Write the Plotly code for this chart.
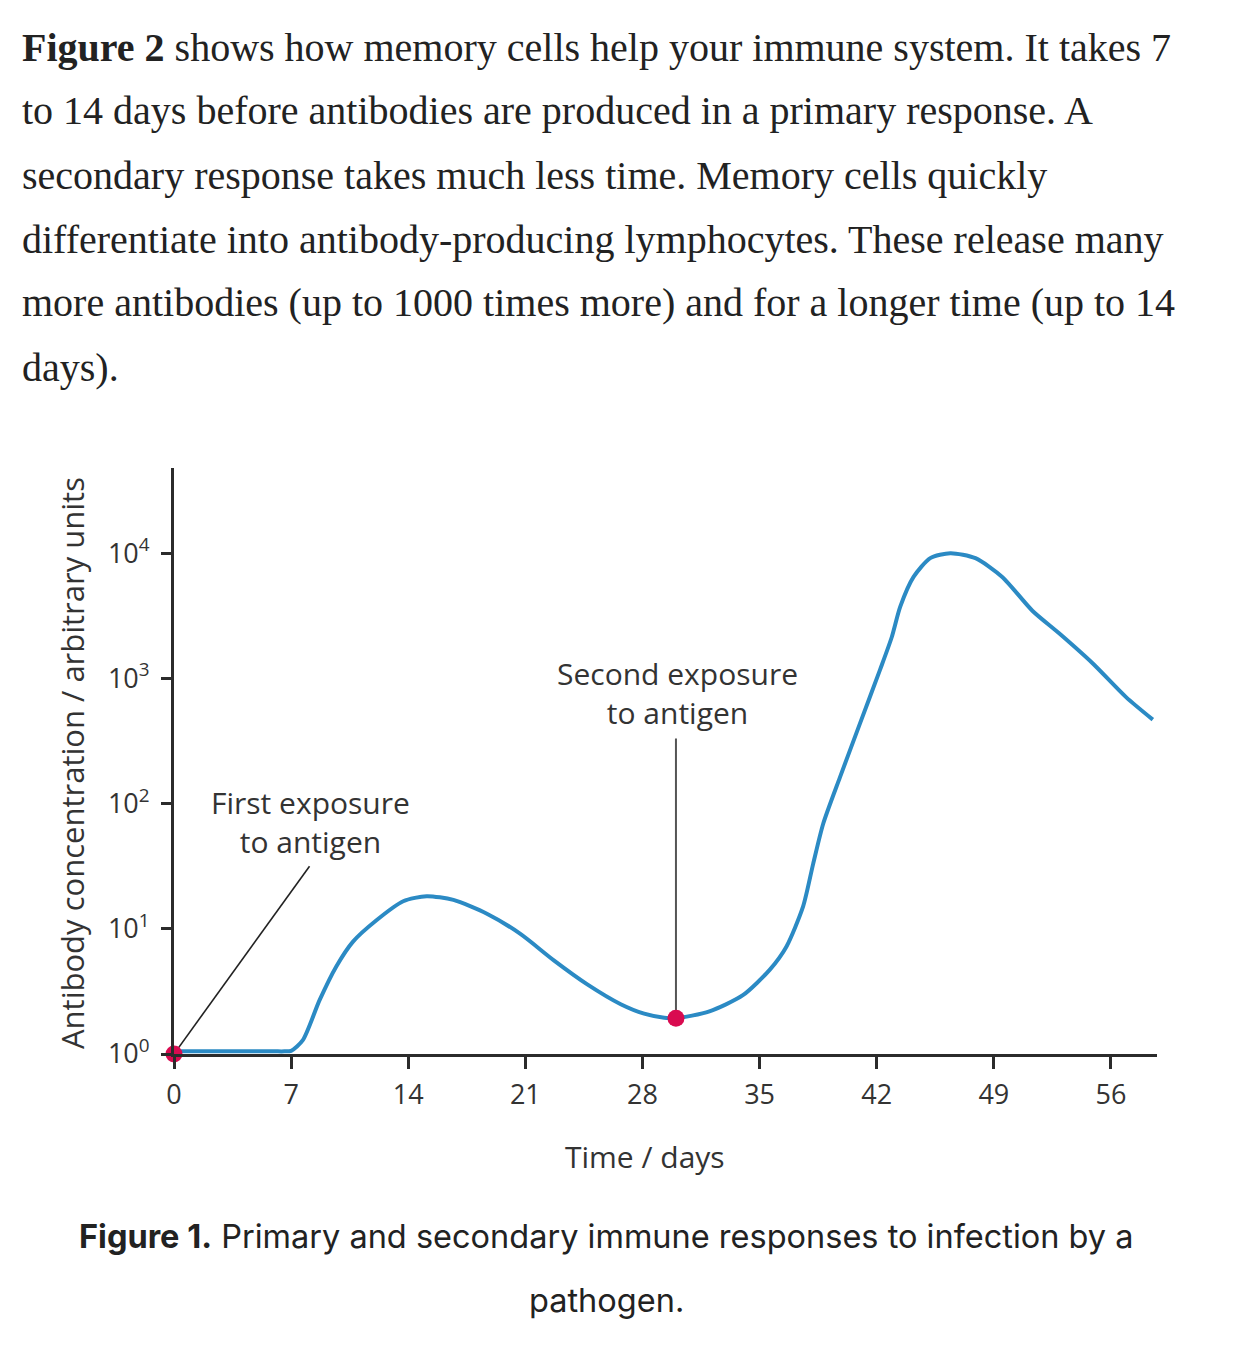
"""Primary vs secondary immune response: antibody concentration over time."""

import plotly.graph_objects as go

# curve (day, antibody concentration in arbitrary units)
days = [0, 3.5, 6.0, 6.6, 7.0, 7.7, 8.7, 9.7, 10.7, 12.1, 13.7, 15.1, 16.7,
        18.7, 20.7, 22.7, 24.7, 26.7, 28.1, 29.3, 30.0, 32.0, 34.0, 35.6,
        36.6, 37.6, 38.2, 38.8, 39.8, 41.0, 42.2, 42.9, 43.4, 44.2, 45.2,
        46.4, 47.9, 49.5, 51.3, 52.9, 54.9, 56.9, 58.5]
concentration = [1.05, 1.05, 1.05, 1.05, 1.06, 1.29, 2.69, 5.0, 7.9, 11.7,
                 16.6, 18.2, 17.0, 13.2, 9.1, 5.6, 3.6, 2.5, 2.1, 1.95, 1.93,
                 2.19, 2.95, 4.7, 7.2, 15.1, 33, 69, 162, 437, 1175, 2140,
                 3720, 6460, 9120, 10000, 9120, 6460, 3470, 2290, 1320, 708,
                 468]

# exposure events
exposure_days = [0, 30]
exposure_conc = [1, 1.93]
# ends of the leader lines for the two labels
leader1_x = [0, 8.1]
leader1_y = [1, 31.6]
leader2_x = [30, 30]
leader2_y = [1.93, 331]

x_ticks = [0, 7, 14, 21, 28, 35, 42, 49, 56]
y_ticks = [1, 10, 100, 1000, 10000]
y_ticktext = ["10<sup>0</sup>", "10<sup>1</sup>", "10<sup>2</sup>",
              "10<sup>3</sup>", "10<sup>4</sup>"]

paragraph = [
    "<b>Figure 2</b> shows how memory cells help your immune system. It takes 7",
    "to 14 days before antibodies are produced in a primary response. A",
    "secondary response takes much less time. Memory cells quickly",
    "differentiate into antibody-producing lymphocytes. These release many",
    "more antibodies (up to 1000 times more) and for a longer time (up to 14",
    "days).",
]
caption = [
    "<b>Figure 1.</b> Primary and secondary immune responses to infection by a",
    "pathogen.",
]

W, H = 1256, 1358
L, R, T, B = 174, 1157, 468, 1054  # plot area in pixels
SANS = "Open Sans"
INK = "#333333"


def px(x, y):
    """pixel position -> paper coords"""
    return (x - L) / (R - L), (B - y) / (B - T)


fig = go.Figure()
fig.add_trace(go.Scatter(x=leader1_x, y=leader1_y, mode="lines",
                         line=dict(color="#222222", width=1.6),
                         hoverinfo="skip"))
fig.add_trace(go.Scatter(x=leader2_x, y=leader2_y, mode="lines",
                         line=dict(color="#555555", width=2),
                         hoverinfo="skip"))
fig.add_trace(go.Scatter(x=days, y=concentration, mode="lines",
                         line=dict(color="#2b8ac4", width=4, shape="spline",
                                   smoothing=0.7),
                         name="antibody"))
fig.add_trace(go.Scatter(x=exposure_days, y=exposure_conc, mode="markers",
                         marker=dict(color="#d90b50", size=17),
                         cliponaxis=False, name="exposure"))

ann = []
for i, line in enumerate(paragraph):
    x, y = px(20, 47 + 64 * i)
    ann.append(dict(x=x, y=y, text=line, xanchor="left", yanchor="middle",
                    font=dict(family="Liberation Serif", size=40,
                              color="#222222")))
for i, line in enumerate(caption):
    x, y = px(606, 1236 + 64 * i)
    ann.append(dict(x=x, y=y, text=line, xanchor="center", yanchor="middle",
                    font=dict(family="Inter", size=32.5, color="#222222")))

x, y = px(310, 822)
ann.append(dict(x=x, y=y, text="First exposure<br>to antigen", xanchor="center",
                yanchor="middle", font=dict(family=SANS, size=30, color=INK)))
x, y = px(677, 693)
ann.append(dict(x=x, y=y, text="Second exposure<br>to antigen", xanchor="center",
                yanchor="middle", font=dict(family=SANS, size=30, color=INK)))
x, y = px(645, 1156)
ann.append(dict(x=x, y=y, text="Time / days", xanchor="center",
                yanchor="middle", font=dict(family=SANS, size=30, color=INK)))
x, y = px(72, 763)
ann.append(dict(x=x, y=y, text="Antibody concentration / arbitrary units",
                textangle=-90, xanchor="center", yanchor="middle",
                font=dict(family=SANS, size=31, color=INK)))
for a in ann:
    a.update(xref="paper", yref="paper", showarrow=False)

fig.update_layout(
    width=W, height=H, autosize=False,
    margin=dict(l=L, r=W - R, t=T, b=H - B, pad=0),
    plot_bgcolor="white", paper_bgcolor="white",
    showlegend=False,
    annotations=ann,
    xaxis=dict(range=[0, 58.75], tickvals=x_ticks, showgrid=False,
               zeroline=False, showline=True, linecolor="#2b2b2b",
               linewidth=3, ticks="outside", ticklen=12, tickwidth=2.5,
               tickcolor="#2b2b2b", ticklabelstandoff=3,
               tickfont=dict(family=SANS, size=27, color=INK)),
    yaxis=dict(type="log", range=[0, 4.68], tickvals=y_ticks,
               ticktext=y_ticktext, showgrid=False, zeroline=False,
               showline=True, linecolor="#2b2b2b", linewidth=3,
               ticks="outside", ticklen=10, tickwidth=2.5,
               tickcolor="#2b2b2b", ticklabelstandoff=6,
               tickfont=dict(family=SANS, size=27, color=INK)),
)

fig.write_html("out.html", config={"displayModeBar": False},
               post_script="document.body.style.margin='0';")
